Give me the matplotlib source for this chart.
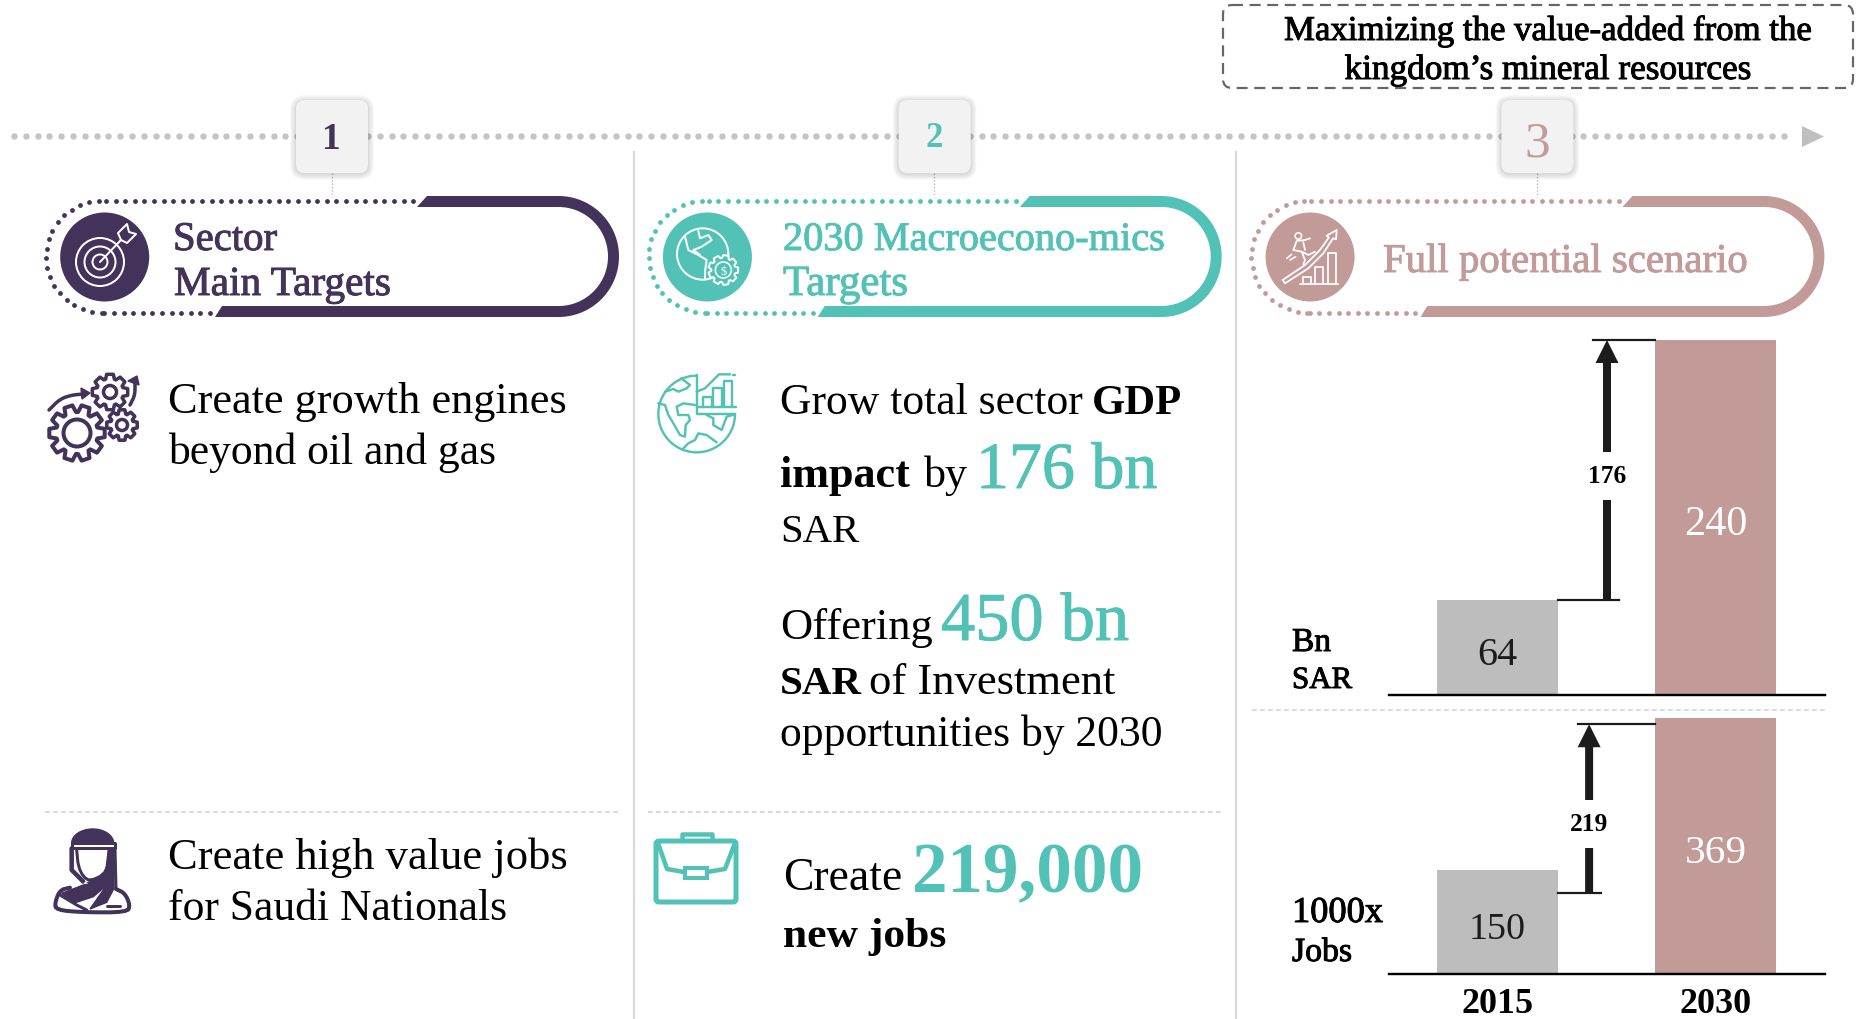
import numpy as np
import matplotlib
matplotlib.use('Agg')
import matplotlib.pyplot as plt
from matplotlib.patches import Polygon, Circle, FancyBboxPatch, Rectangle
from matplotlib.transforms import ScaledTranslation
import matplotlib.patheffects as pe

# ---- data ----
years = ['2015', '2030']
gdp_values = [64, 240]
jobs_values = [150, 369]
gdp_delta = '176'
jobs_delta = '219'
jobs_bracket = [117, 360]      # arrow ends as drawn in the picture
gdp_label_at = 148
jobs_label_at = 216
step_numbers = ['1', '2', '3']

PURPLE = '#43335a'
TEAL = '#52c2b6'
ROSE = '#c29b99'
GREY = '#bdbdbd'
DARK = '#1c1c1c'
FONT = 'Liberation Serif'

W, H = 1857, 1019
fig = plt.figure(figsize=(W / 100, H / 100), dpi=100, facecolor='white')
ax = fig.add_axes([0, 0, 1, 1])
ax.set_xlim(0, W)
ax.set_ylim(H, 0)
ax.axis('off')
rend = fig.canvas.get_renderer()


def px(v):
    return v * 0.72


def txt(x, y, s, width=None, size=30, color='black', weight='normal', ha='left',
        va='baseline', medium=False, a=None, **kw):
    a = a or ax
    t = a.text(x, y, s, fontsize=size, color=color, fontweight=weight, family=FONT,
               ha=ha, va=va, **kw)
    if width:
        w = t.get_window_extent(rend).width
        t.set_fontsize(size * width / w)
    if medium:
        t.set_path_effects([pe.withStroke(linewidth=0.7, foreground=color)])
    return t


def line(pts, color, lw=3, o=(0, 0), s=1.0, smooth=0, **kw):
    p = np.array(pts, float)
    for _ in range(smooth):
        q = 0.75 * p[:-1] + 0.25 * p[1:]
        r = 0.25 * p[:-1] + 0.75 * p[1:]
        m = np.empty((len(q) * 2, 2))
        m[0::2], m[1::2] = q, r
        p = np.vstack([p[:1], m, p[-1:]])
    p = p * s + np.array(o)
    ax.plot(p[:, 0], p[:, 1], color=color, lw=px(lw), solid_capstyle='round',
            solid_joinstyle='round', **kw)


def gear(cx, cy, ro, ri, n, color, lw=3, rh=None, face='none'):
    pts = []
    step = 2 * np.pi / n
    for i in range(n):
        a = i * step
        for da, r in [(-0.30, ri), (-0.17, ro), (0.17, ro), (0.30, ri)]:
            pts.append((cx + r * np.cos(a + da * step * 1.4),
                        cy + r * np.sin(a + da * step * 1.4)))
    ax.add_patch(Polygon(pts, closed=True, fc=face, ec=color, lw=px(lw), joinstyle='round'))
    if rh:
        ax.add_patch(Circle((cx, cy), rh, fc='none', ec=color, lw=px(lw)))


# ---- timeline ----
xs = np.arange(14, 1795, 11.8)
ax.plot(xs, np.full_like(xs, 136), 'o', color='#c4c4c4', ms=px(6.4), mew=0)
ax.add_patch(Polygon([(1802, 126), (1802, 147), (1824, 136.5)], fc='#bfbfbf', ec='none'))

for x in (634, 1236):
    ax.plot([x, x], [152, H], color='#d9d9d9', lw=px(2.2))

# ---- dashed headline box ----
ax.add_patch(FancyBboxPatch((1223, 5), 630, 83, boxstyle='round,pad=0,rounding_size=9',
                            fc='none', ec='#666666', lw=px(2.2), ls=(0, (5, 3))))
txt(1548, 40, 'Maximizing the value-added from the', width=528, ha='center', medium=True)
txt(1548, 79, 'kingdom\u2019s mineral resources', width=407, ha='center', medium=True)

# ---- column headers ----
DX = 602.7
cols = [PURPLE, TEAL, ROSE]
for i, c in enumerate(cols):
    d = i * DX
    # connector
    ax.plot([331.5 + d] * 2, [173, 197], color='#bdbdbd', lw=px(1.4), ls=(0, (1, 1.4)))
    # number box with soft shadow
    for k in range(6, 0, -1):
        ax.add_patch(FancyBboxPatch((296 + d - k, 100 - k + 1), 72 + 2 * k, 73 + 2 * k,
                                    boxstyle='round,pad=0,rounding_size=%d' % (9 + k),
                                    fc='black', ec='none', alpha=0.022, zorder=3))
    ax.add_patch(FancyBboxPatch((296 + d, 100), 72, 73, boxstyle='round,pad=0,rounding_size=9',
                                fc='#f2f2f2', ec='none', zorder=4))
    # solid part of pill
    cx, cy, Ro, Ri = 558.5 + d, 256.5, 60.5, 49.5
    t = np.linspace(-np.pi / 2, np.pi / 2, 80)
    outer = [(427 + d, 196)] + [(cx + Ro * np.cos(a), cy + Ro * np.sin(a)) for a in t] + [(215 + d, 317)]
    inner = [(222 + d, 306)] + [(cx + Ri * np.cos(a), cy + Ri * np.sin(a)) for a in t[::-1]] + [(417 + d, 207)]
    ax.add_patch(Polygon(outer + inner, closed=True, fc=c, ec='none'))
    # dotted part of pill
    rr = 56
    lx, ly = 102 + d, 256.7
    bottom = np.arange(215 + d - 5, lx, -9.6)
    arc = np.arange(0, np.pi, 9.6 / rr)
    top = np.arange(lx + 4, 420 + d, 9.6)
    dx = np.concatenate([bottom, lx - rr * np.sin(arc), top])
    dy = np.concatenate([np.full_like(bottom, ly + rr), ly + rr * np.cos(arc), np.full_like(top, ly - rr)])
    ax.plot(dx, dy, 'o', color=c, ms=px(4.8), mew=0)
    # icon disc
    ax.add_patch(Circle((104.7 + d, 257), 44.5, fc=c, ec='none'))

for i, (n, sz, yy) in enumerate(zip(step_numbers, [27, 25, 37], [149, 147, 156])):
    txt(331.5 + i * DX, yy, n, size=sz, color=cols[i], weight='bold' if i < 2 else 'normal',
        ha='center', zorder=5)

txt(173, 250, 'Sector', width=104, color=PURPLE, medium=True)
txt(174, 295, 'Main Targets', width=217, color=PURPLE, medium=True)
txt(783, 250, '2030 Macroecono-mics', width=382, color=TEAL, medium=True)
txt(783, 295, 'Targets', width=125, color=TEAL, medium=True)
txt(1383, 272, 'Full potential scenario', width=365, color=ROSE, medium=True)

# target icon
for r in (24, 15.5, 7.5):
    ax.add_patch(Circle((100, 262), r, fc='none', ec='white', lw=px(2)))
line([(100, 262), (121, 240)], 'white', 2)
line([(121, 240), (118, 233), (127, 224), (129, 232), (136, 234), (127, 243), (121, 240)], 'white', 2)

# globe + gear icon (white)
o2 = (655, 205)
ax.add_patch(Circle((655 + 143 / 3, 205 + 147 / 3), 77 / 3, fc='none', ec='white', lw=px(2)))
line([(90, 95), (100, 135), (130, 150), (155, 165), (150, 200), (150, 222)], 'white', 2, o2, 1 / 3)
line([(130, 78), (135, 100), (160, 90), (170, 105), (140, 125), (115, 135), (135, 150)], 'white', 2, o2, 1 / 3)
gear(655 + 205 / 3, 205 + 195 / 3, 15, 12, 9, 'white', 2, face=TEAL)
ax.add_patch(Circle((655 + 205 / 3, 205 + 195 / 3), 8, fc='none', ec='white', lw=px(1.6)))
txt(655 + 205 / 3, 205 + 195 / 3 + 4.5, '$', size=9, color='white', ha='center', zorder=5)

# climber icon (white)
o3 = (1255, 205)
line([(83, 225), (150, 180), (195, 135), (222, 97), (215, 92), (245, 75), (243, 103), (234, 100),
      (205, 145), (160, 190), (90, 235), (83, 225)], 'white', 1.8, o3, 1 / 3)
for b in [[(143, 235), (143, 215), (167, 215), (167, 235)],
          [(180, 235), (180, 185), (205, 185), (205, 235)],
          [(218, 235), (218, 145), (242, 145), (242, 235)],
          [(135, 237), (248, 237)]]:
    line(b, 'white', 1.8, o3, 1 / 3)
ax.add_patch(Circle((1255 + 130 / 3, 205 + 93 / 3), 3.2, fc='none', ec='white', lw=px(1.6)))
line([(165, 100), (150, 105), (125, 108), (115, 135), (140, 140), (150, 165), (145, 178)], 'white', 1.8, o3, 1 / 3)
line([(140, 140), (160, 150), (180, 140)], 'white', 1.8, o3, 1 / 3)
line([(145, 112), (150, 135)], 'white', 1.8, o3, 1 / 3)
line([(95, 160), (110, 148)], 'white', 1.6, o3, 1 / 3)
line([(105, 165), (122, 155)], 'white', 1.6, o3, 1 / 3)

# ---- column 1 body ----
txt(168, 413, 'Create growth engines', width=399)
txt(168, 464, 'beyond oil and gas', width=329)
txt(168, 869, 'Create high value jobs', width=399)
txt(168, 920, 'for Saudi Nationals', width=340)

gear(77, 433, 28, 21, 10, PURPLE, 4, rh=13.5)
gear(110, 392, 18, 13.5, 8, PURPLE, 3.5, rh=6.5)
gear(122, 425, 15.5, 11.5, 8, PURPLE, 3.5, rh=5.5)
line([(49, 410), (60, 399), (72, 395), (84, 394)], PURPLE, 3.5, smooth=2)
ax.add_patch(Polygon([(81, 388), (90, 393), (82, 399)], fc=PURPLE, ec=PURPLE))
line([(130, 405), (135, 395), (135, 383)], PURPLE, 3.5, smooth=2)
ax.add_patch(Polygon([(128, 381), (137, 376), (139, 385)], fc=PURPLE, ec=PURPLE))

# saudi figure
o4 = (40, 815)
th = np.linspace(np.pi, 2 * np.pi, 40)
dome = [(158 + 63 * np.cos(a), 85 + 43 * np.sin(a)) for a in th]
ax.add_patch(Polygon([(o4[0] + x / 3, o4[1] + y / 3) for x, y in dome], fc=PURPLE, ec=PURPLE))
line([(95, 85), (225, 85), (225, 100), (95, 100), (95, 85)], PURPLE, 3, o4, 1 / 3)
line([(95, 100), (95, 165), (130, 200)], PURPLE, 4.5, o4, 1 / 3)
line([(110, 105), (115, 155), (130, 185), (150, 198), (190, 180), (205, 150), (208, 105)], PURPLE, 3, o4, 1 / 3, smooth=1)
line([(225, 100), (228, 220)], PURPLE, 3, o4, 1 / 3)
scarf = [(65, 235), (130, 210), (205, 170), (195, 215), (160, 245), (100, 265)]
ax.add_patch(Polygon([(o4[0] + x / 3, o4[1] + y / 3) for x, y in scarf], fc=PURPLE, ec=PURPLE))
side = [(205, 105), (222, 105), (222, 220), (200, 262), (150, 282), (190, 225)]
ax.add_patch(Polygon([(o4[0] + x / 3, o4[1] + y / 3) for x, y in side], fc=PURPLE, ec=PURPLE))
ax.add_patch(Polygon([(o4[0] + 135 / 3, o4[1] + 200 / 3), (o4[0] + 145 / 3, o4[1] + 205 / 3),
                      (o4[0] + 130 / 3, o4[1] + 208 / 3)], fc='white', ec='none', zorder=3))
line([(90, 218), (60, 225), (45, 262), (48, 285), (130, 292), (262, 292), (270, 270), (255, 235), (228, 222)],
     PURPLE, 4, o4, 1 / 3, smooth=2)
line([(60, 240), (110, 270), (140, 285)], PURPLE, 3, o4, 1 / 3)
line([(200, 272), (240, 272)], PURPLE, 3, o4, 1 / 3)

# ---- column 2 body ----
txt(780, 414, 'Grow total sector', width=303)
txt(1092, 414, 'GDP', width=90, weight='bold')
txt(780, 487, 'impact', width=130, weight='bold')
txt(924, 487, 'by', width=44)
txt(976, 488, '176 bn', width=181, color=TEAL, medium=True)
txt(780, 542, 'SAR', width=79)
txt(780, 639, 'Offering', width=153)
txt(941, 640, '450 bn', width=188, color=TEAL, medium=True)
txt(780, 694, 'SAR', width=82, weight='bold')
txt(869, 694, 'of Investment', width=247)
txt(780, 746, 'opportunities by 2030', width=382)
txt(783, 890, 'Create', width=119)
txt(912, 892, '219,000', width=231, color=TEAL, weight='bold')
txt(783, 947, 'new jobs', width=163, weight='bold')

# globe icon (teal)
o5 = (645, 365)
t = np.linspace(np.pi / 2, 2 * np.pi, 90)
ax.plot(645 + (155 + 115 * np.cos(t)) / 3, 365 + (147 - 115 * np.sin(t)) / 3, color=TEAL, lw=px(2.4))
line([(155, 30), (155, 147), (270, 147)], TEAL, 2.4, o5, 1 / 3)
line([(155, 125), (272, 125)], TEAL, 2.4, o5, 1 / 3)
for bar in [[(175, 125), (175, 95), (200, 95), (200, 125)],
            [(205, 125), (205, 70), (230, 70), (230, 125)],
            [(237, 125), (237, 47), (262, 47), (262, 125)]]:
    line(bar, TEAL, 2.4, o5, 1 / 3)
line([(155, 80), (180, 70), (222, 28), (255, 28)], TEAL, 2.4, o5, 1 / 3)
line([(265, 30), (271, 30)], TEAL, 2.4, o5, 1 / 3)
line([(60, 80), (85, 72), (100, 80), (125, 70), (135, 60), (115, 45), (108, 40)], TEAL, 2.4, o5, 1 / 3)
line([(40, 115), (60, 120), (70, 150), (85, 175), (105, 210), (120, 215), (122, 180), (135, 165),
      (130, 150), (100, 150), (95, 125), (115, 115), (150, 120)], TEAL, 2.4, o5, 1 / 3)
line([(115, 250), (130, 235), (150, 225), (160, 205), (185, 210), (215, 232)], TEAL, 2.4, o5, 1 / 3)
line([(185, 150), (205, 160), (205, 180), (230, 195), (245, 155), (270, 148)], TEAL, 2.4, o5, 1 / 3)

# briefcase
ax.add_patch(FancyBboxPatch((656, 841), 80, 61, boxstyle='round,pad=0,rounding_size=3',
                            fc='none', ec=TEAL, lw=px(5)))
line([(682, 840), (682, 834), (712, 834), (712, 840)], TEAL, 4.5)
line([(658, 843), (667, 869), (684, 872)], TEAL, 4.5)
line([(707, 872), (725, 869), (735, 843)], TEAL, 4.5)
ax.add_patch(Rectangle((685, 868), 22, 10, fc='none', ec=TEAL, lw=px(4)))

# separators
for x0, x1, y in [(45, 619, 811.5), (648, 1221, 811.5), (1252, 1825, 710)]:
    ax.plot([x0, x1], [y, y], color='#d2d2d2', lw=px(1.6), ls=(0, (3, 2)))

# ---- column 3 labels ----
txt(1292, 651, 'Bn', width=39, medium=True)
txt(1292, 688, 'SAR', width=60, medium=True)
txt(1292, 922, '1000x', width=91, medium=True)
txt(1292, 961, 'Jobs', width=60, medium=True)


# ---- bar charts ----
def bar_axes(y_base, y_top, vmax):
    a = fig.add_axes([1389 / W, 1 - y_base / H, (1825 - 1389) / W, (y_base - y_top) / H])
    a.patch.set_alpha(0)
    a.set_xlim(-0.498, 1.502)
    a.set_ylim(0, vmax)
    for s in ('top', 'left', 'right'):
        a.spines[s].set_visible(False)
    a.spines['bottom'].set_linewidth(px(2.4))
    a.spines['bottom'].set_color('black')
    a.yaxis.set_visible(False)
    return a


ax1 = bar_axes(695, 340, max(gdp_values))
ax2 = bar_axes(974, 718, max(jobs_values))
BAR_W = 0.555
down = ScaledTranslation(0, -0.075, fig.dpi_scale_trans)
for a, vals, widths in ((ax1, gdp_values, (40, 63)), (ax2, jobs_values, (57, 62))):
    a.bar([0, 1], vals, width=BAR_W, color=[GREY, ROSE])
    txt(0, vals[0] / 2, str(vals[0]), width=widths[0], color=DARK, ha='center',
        va='center', a=a).set_transform(a.transData + down)
    txt(1, vals[1] / 2, str(vals[1]), width=widths[1], color='white', ha='center',
        va='center', a=a).set_transform(a.transData + down)
ax1.set_xticks([])
ax2.set_xticks([0, 1])
ax2.set_xticklabels(years, fontfamily=FONT, fontweight='bold', fontsize=26)
ax2.tick_params(axis='x', length=0, pad=10)


def bracket(a, x, lo, hi, lo_end, hi_start, label, label_at):
    a.plot([BAR_W / 2, lo_end], [lo, lo], color=DARK, lw=px(2.2), clip_on=False)
    a.plot([hi_start, 1 - BAR_W / 2], [hi, hi], color=DARK, lw=px(2.2), clip_on=False)
    a.annotate('', xy=(x, hi), xytext=(x, lo), annotation_clip=False,
               arrowprops=dict(width=px(8), headwidth=px(23), headlength=px(23),
                               shrink=0, fc=DARK, ec='none'))
    txt(x, label_at, label, width=38, weight='bold', color='black', ha='center', va='center',
        a=a, zorder=6, bbox=dict(fc='white', ec='none', boxstyle='square,pad=0.5'))


bracket(ax1, 0.502, gdp_values[0], gdp_values[1], 0.557, 0.44, gdp_delta, gdp_label_at)
bracket(ax2, 0.42, jobs_bracket[0], jobs_bracket[1], 0.475, 0.369, jobs_delta, jobs_label_at)

fig.savefig('out.png', dpi=100, facecolor='white')
